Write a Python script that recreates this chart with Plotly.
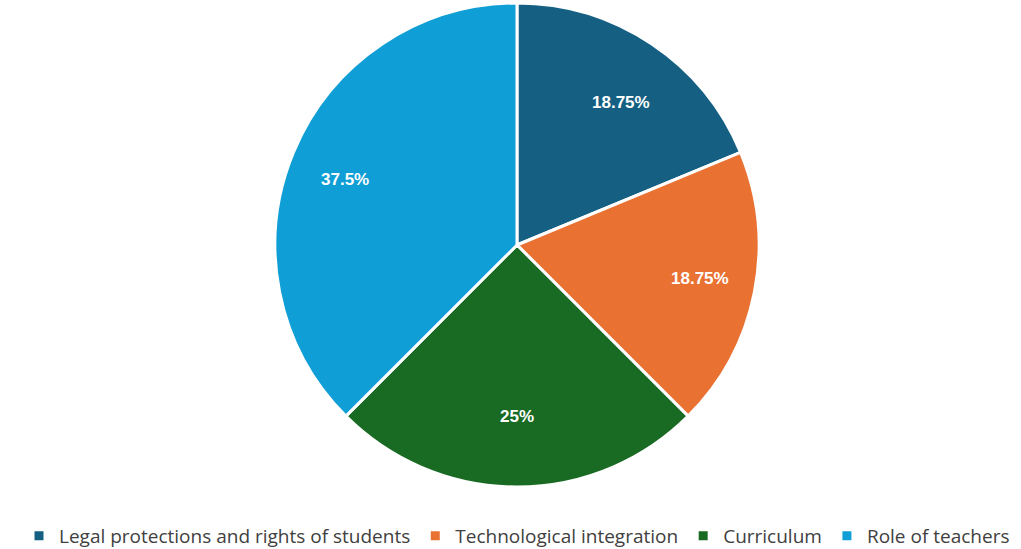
import math
import plotly.graph_objects as go

categories = ["Legal protections and rights of students", "Technological integration", "Curriculum", "Role of teachers"]
values = [18.75, 18.75, 25, 37.5]
colors = ["#156082", "#E97132", "#196B24", "#0F9ED5"]

W, H = 1021, 549
ml, mr, mt, mb = 13, 0, 3, 62
pw, ph = W - ml - mr, H - mt - mb
R = min(pw, ph) / 2
label_fx, label_fy = 0.77, 0.71

fig = go.Figure(go.Pie(
    labels=categories,
    values=values,
    sort=False,
    direction="clockwise",
    rotation=0,
    textinfo="none",
    marker=dict(colors=colors, line=dict(color="white", width=3)),
    hoverinfo="label+value",
))

total = sum(values)
cum = 0
for v in values:
    mid = (cum + v / 2) / total * 2 * math.pi
    cum += v
    dx = label_fx * R * math.sin(mid)
    dy = label_fy * R * math.cos(mid)
    fig.add_annotation(
        x=0.5 + dx / pw, y=0.5 + dy / ph, xref="paper", yref="paper",
        xanchor="center", yanchor="middle",
        text=f"{v:g}%", showarrow=False,
        font=dict(family="Liberation Sans, Arial", size=17, color="white", weight="bold"),
    )

fig.update_layout(
    width=W, height=H,
    margin=dict(l=ml, r=mr, t=mt, b=mb, autoexpand=False),
    paper_bgcolor="white",
    showlegend=True,
    legend=dict(
        orientation="h", x=0.5, xanchor="center", y=-49 / ph, yanchor="middle",
        font=dict(family="Open Sans", size=19, color="#404040"),
        itemwidth=30, traceorder="normal",
    ),
)

fig.write_html(
    "out.html",
    config={"displayModeBar": False},
    post_script="document.body.style.margin='0';document.body.style.overflow='hidden';",
)
